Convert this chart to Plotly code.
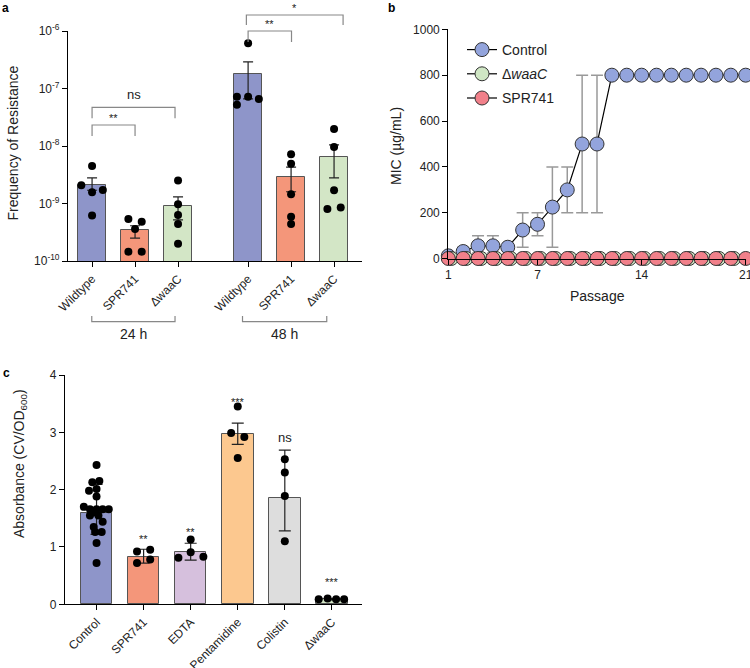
import math
import plotly.graph_objects as go

# ---------------- DATA ----------------
# Panel a: frequency of resistance
a_labels = ["Wildtype", "SPR741", "ΔwaaC", "Wildtype", "SPR741", "ΔwaaC"]
a_group_labels = ["24 h", "48 h"]
a_means = [2.1e-9, 3.5e-10, 9.1e-10, 1.8e-7, 2.9e-9, 6.5e-9]
a_err_hi = [2.8e-9, 4.1e-10, 1.3e-9, 2.9e-7, 4.3e-9, 1.05e-8]
a_err_lo = [1.7e-9, 2.5e-10, 5.2e-10, 6.6e-8, 1.6e-9, 2.8e-9]
a_points = [
    [4.5e-9, 2.07e-9, 1.57e-9, 1.72e-9, 6.2e-10],
    [5.4e-10, 4.8e-10, 3.6e-10, 1.45e-10, 1.45e-10],
    [2.5e-9, 9.7e-10, 6.3e-10, 4.4e-10, 2.0e-10],
    [6.1e-7, 7.2e-8, 7.2e-8, 6.6e-8, 5.2e-8],
    [7.2e-9, 4.9e-9, 1.45e-9, 5.9e-10, 4.4e-10],
    [1.98e-8, 9.6e-9, 1.7e-9, 8.0e-10, 8.5e-10],
]
a_sig = ["**", "ns", "**", "*"]

# Panel b: MIC over passages
passage = list(range(1, 22))
mic_control = [12.5, 31.25, 56.25, 56.25, 50, 125, 150, 225, 300, 500, 500,
               800, 800, 800, 800, 800, 800, 800, 800, 800, 800]
mic_control_hi = [12.5, 50, 100, 100, 50, 200, 200, 400, 400, 800, 800,
                  800, 800, 800, 800, 800, 800, 800, 800, 800, 800]
mic_control_lo = [12.5, 12.5, 25, 25, 50, 50, 100, 50, 200, 200, 200,
                  800, 800, 800, 800, 800, 800, 800, 800, 800, 800]
mic_waac = [1] * 21
mic_spr741 = [1] * 21
b_names = ["Control", "Δ<i>waaC</i>", "SPR741"]

# Panel c: biofilm absorbance
c_labels = ["Control", "SPR741", "EDTA", "Pentamidine", "Colistin", "ΔwaaC"]
c_means = [1.60, 0.83, 0.91, 2.97, 1.85, 0.087]
c_err_hi = [2.09, 0.96, 1.065, 3.16, 2.69, 0.097]
c_err_lo = [1.22, 0.72, 0.77, 2.79, 1.28, 0.077]
c_points = [
    [2.43, 2.13, 2.15, 1.98, 2.01, 1.88, 1.70, 1.66, 1.66, 1.66, 1.66,
     1.60, 1.55, 1.55, 1.44, 1.35, 1.26, 1.26, 1.07, 0.72],
    [0.92, 0.95, 0.72, 0.78],
    [1.13, 0.81, 0.91, 0.83],
    [3.45, 2.99, 2.92, 2.55],
    [2.53, 2.30, 1.89, 1.10],
    [0.09, 0.10, 0.09, 0.09],
]
c_sig = ["", "**", "**", "***", "ns", "***"]
c_sig_y = [None, 1.20, 1.31, 3.58, 2.91, 0.45]

# ---------------- STYLE / LAYOUT HELPERS ----------------
FONT = "Liberation Sans, Arial, sans-serif"
W, H = 750, 668
a_pos = [0, 1, 2, 3.63, 4.63, 5.63]
a_xr = [-0.56, 6.28]
a_yr = [-10, -6]
a_jit = [[0, -0.25, 0, 0.25, 0], [-0.155, 0.155, 0, -0.155, 0.155],
         [0, 0, 0, 0, 0], [0, -0.26, 0, 0.25, -0.26], [0, 0, 0, 0, 0],
         [0, 0, 0, -0.155, 0.155]]
a_colors = ["#8E95C9", "#F4967A", "#D3E6C6", "#8E95C9", "#F4967A", "#D3E6C6"]

c_xr = [-0.67, 5.64]
c_colors = ["#8E95C9", "#F4967A", "#D6C0DD", "#FCC88F", "#DDDDDD", "#D3E6C6"]
c_jit = [
    [0, -0.09, 0.06, -0.16, 0, 0, -0.27, -0.14, 0, 0.13, 0.26, -0.07, -0.14,
     0.04, 0.13, -0.06, -0.03, 0.11, 0, 0],
    [-0.14, 0.14, -0.14, 0.14],
    [0, -0.26, 0, 0.27],
    [0, -0.14, 0.14, 0],
    [0, 0, 0, 0],
    [-0.28, -0.09, 0.09, 0.26],
]


def px_dom_x(x0, x1):
    return [x0 / W, x1 / W]


def px_dom_y(ybot, ytop):
    return [1 - ybot / H, 1 - ytop / H]


fig = go.Figure()

# ---------- Panel a ----------
fig.add_trace(go.Bar(
    x=a_pos, y=a_means, width=0.65, marker=dict(color=a_colors, line=dict(color="#555", width=1)),
    error_y=dict(type="data", symmetric=False,
                 array=[h - m for h, m in zip(a_err_hi, a_means)],
                 arrayminus=[m - l for m, l in zip(a_means, a_err_lo)],
                 color="#222", thickness=1.2, width=5),
    xaxis="x", yaxis="y", showlegend=False))
for i, pts in enumerate(a_points):
    fig.add_trace(go.Scatter(
        x=[a_pos[i] + j for j in a_jit[i]], y=pts, mode="markers",
        marker=dict(color="black", size=8), cliponaxis=False,
        xaxis="x", yaxis="y", showlegend=False))

# ---------- Panel b ----------
fig.add_trace(go.Scatter(
    x=passage, y=mic_control, mode="lines+markers", name=b_names[0], legendgroup="g1",
    line=dict(color="black", width=1.2),
    marker=dict(color="#93A4DC", size=14, line=dict(color="#333", width=1)),
    error_y=dict(type="data", symmetric=False,
                 array=[h - m for h, m in zip(mic_control_hi, mic_control)],
                 arrayminus=[m - l for m, l in zip(mic_control, mic_control_lo)],
                 color="#999", thickness=1.5, width=6),
    cliponaxis=False, xaxis="x2", yaxis="y2"))
fig.add_trace(go.Scatter(
    x=[p + 0.2 for p in passage], y=mic_waac, mode="lines+markers", name=b_names[1], legendgroup="g2",
    line=dict(color="black", width=1.2),
    marker=dict(color="#CFE6C4", size=14, line=dict(color="#333", width=1)),
    cliponaxis=False, xaxis="x2", yaxis="y2"))
fig.add_trace(go.Scatter(
    x=passage, y=mic_spr741, mode="lines+markers", name=b_names[2], legendgroup="g3",
    line=dict(color="black", width=1.2),
    marker=dict(color="#F1808A", size=14, line=dict(color="#333", width=1)),
    cliponaxis=False, xaxis="x2", yaxis="y2"))

# ---------- Panel c ----------
c_pos = list(range(len(c_labels)))
fig.add_trace(go.Bar(
    x=c_pos, y=c_means, width=0.67, marker=dict(color=c_colors, line=dict(color="#555", width=1)),
    error_y=dict(type="data", symmetric=False,
                 array=[h - m for h, m in zip(c_err_hi, c_means)],
                 arrayminus=[m - l for m, l in zip(c_means, c_err_lo)],
                 color="#222", thickness=1.2, width=6),
    xaxis="x3", yaxis="y3", showlegend=False))
for i, pts in enumerate(c_points):
    fig.add_trace(go.Scatter(
        x=[c_pos[i] + j for j in c_jit[i]], y=pts, mode="markers",
        marker=dict(color="black", size=8), cliponaxis=False,
        xaxis="x3", yaxis="y3", showlegend=False))

axis_common = dict(showline=True, linecolor="black", linewidth=1.2, ticks="outside",
                   ticklen=5, tickwidth=1.2, tickcolor="black", showgrid=False,
                   zeroline=False, automargin=False, ticklabeloverflow="allow",
                   tickfont=dict(size=12, color="#222", family=FONT))

fig.update_layout(
    template="none",
    width=W, height=H, margin=dict(l=0, r=0, t=0, b=0, pad=0, autoexpand=False),
    paper_bgcolor="white", plot_bgcolor="white",
    font=dict(family=FONT, color="#222"),
    bargap=0,
    xaxis=dict(domain=px_dom_x(68, 362), range=a_xr, tickvals=a_pos, ticktext=a_labels,
               tickangle=-45, anchor="y", **axis_common),
    yaxis=dict(domain=px_dom_y(261, 31), type="log", range=a_yr,
               tickvals=[1e-10, 1e-9, 1e-8, 1e-7, 1e-6],
               ticktext=["10<sup>-10</sup>", "10<sup>-9</sup>", "10<sup>-8</sup>",
                         "10<sup>-7</sup>", "10<sup>-6</sup>"],
               anchor="x", **axis_common),
    xaxis2=dict(domain=px_dom_x(448.3, 745.7), range=[1, 21], tickvals=[1, 7, 14, 21],
                anchor="y2", **axis_common),
    yaxis2=dict(domain=px_dom_y(258.7, 29.3), range=[0, 1000], dtick=200,
                anchor="x2", **axis_common),
    xaxis3=dict(domain=px_dom_x(65, 362), range=c_xr, tickvals=c_pos, ticktext=c_labels,
                tickangle=-45, anchor="y3", **axis_common),
    yaxis3=dict(domain=px_dom_y(604.3, 375), range=[0, 4], dtick=1,
                anchor="x3", **axis_common),
    legend=dict(x=462 / W, y=1 - 34 / H, xanchor="left", yanchor="top",
                font=dict(size=14, family=FONT, color="#222"), bgcolor="rgba(0,0,0,0)",
                tracegroupgap=3),
)


# ---- helpers to convert data to domain coords for panel a (unclipped) ----
def ax_dom(x):
    return (x - a_xr[0]) / (a_xr[1] - a_xr[0])


shapes = []
bracket_col = "#888"
# significance brackets: (x_start, x_end, y_top_log, drop_log)
a_brackets = [(a_pos[0], a_pos[1], -7.635, 0.19),
              (a_pos[0], 1.93, -7.327, 0.19),
              (a_pos[3], 4.64, -6.0, 0.19),
              (3.59, 5.84, -5.722, 0.175)]
annots = []
for (x0, x1, yl, d), s in zip(a_brackets, a_sig):
    yt = (yl - a_yr[0]) / (a_yr[1] - a_yr[0])
    yb = (yl - d - a_yr[0]) / (a_yr[1] - a_yr[0])
    pts = [(ax_dom(x0), yb), (ax_dom(x0), yt), (ax_dom(x1), yt), (ax_dom(x1), yb)]
    path = "M " + " L ".join(f"{px},{py}" for px, py in pts)
    shapes.append(dict(type="path", path=path, xref="x domain", yref="y domain",
                       line=dict(color=bracket_col, width=1.2)))
    is_ns = s == "ns"
    annots.append(dict(x=ax_dom((x0 + x1) / 2), y=yt, xref="x domain", yref="y domain",
                       text=s, showarrow=False, xanchor="center", yanchor="bottom",
                       yshift=3 if is_ns else -1,
                       font=dict(size=13 if is_ns else 11, family=FONT, color="#222")))

# group brackets under panel a
a_groups = [(-0.007, 1.93), (3.50, 5.46)]
for (x0, x1), lab in zip(a_groups, a_group_labels):
    yb = (261 - 321.7) / 230
    yt = (261 - 316) / 230
    pts = [(ax_dom(x0), yt), (ax_dom(x0), yb), (ax_dom(x1), yb), (ax_dom(x1), yt)]
    path = "M " + " L ".join(f"{px},{py}" for px, py in pts)
    shapes.append(dict(type="path", path=path, xref="x domain", yref="y domain",
                       line=dict(color=bracket_col, width=1.2)))
    annots.append(dict(x=ax_dom((x0 + x1) / 2), y=(261 - 334) / 230, xref="x domain",
                       yref="y domain", text=lab, showarrow=False,
                       xanchor="center", yanchor="middle",
                       font=dict(size=14, family=FONT, color="#222")))

# significance in panel c
for i, s in enumerate(c_sig):
    if not s:
        continue
    is_ns = s == "ns"
    annots.append(dict(x=c_pos[i], y=c_sig_y[i], xref="x3", yref="y3", text=s,
                       showarrow=False, xanchor="center", yanchor="middle",
                       yshift=0 if is_ns else -3,
                       font=dict(size=13 if is_ns else 11, family=FONT, color="#222")))

# axis titles and panel letters
title_font = dict(size=14, family=FONT, color="#222")
annots += [
    dict(x=12.5 / W, y=1 - 143 / H, text="Frequency of Resistance", textangle=-90,
         font=title_font),
    dict(x=396 / W, y=1 - 146 / H, text="MIC (µg/mL)", textangle=-90, font=title_font),
    dict(x=597 / W, y=1 - 296 / H, text="Passage", font=title_font),
    dict(x=20 / W, y=1 - 464 / H, text="Absorbance (CV/OD<sub>600</sub>)", textangle=-90,
         font=title_font),
    dict(x=5 / W, y=1 - 8 / H, text="<b>a</b>",
         font=dict(size=12, family=FONT, color="black")),
    dict(x=392 / W, y=1 - 8 / H, text="<b>b</b>",
         font=dict(size=12, family=FONT, color="black")),
    dict(x=6 / W, y=1 - 373 / H, text="<b>c</b>",
         font=dict(size=12, family=FONT, color="black")),
]
for an in annots[-7:]:
    an.update(xref="paper", yref="paper", showarrow=False, xanchor="center", yanchor="middle")

fig.update_layout(shapes=shapes, annotations=annots)
fig.write_html("out.html", config={"displayModeBar": False},
               post_script="document.body.style.margin='0px';document.body.style.overflow='hidden';")
